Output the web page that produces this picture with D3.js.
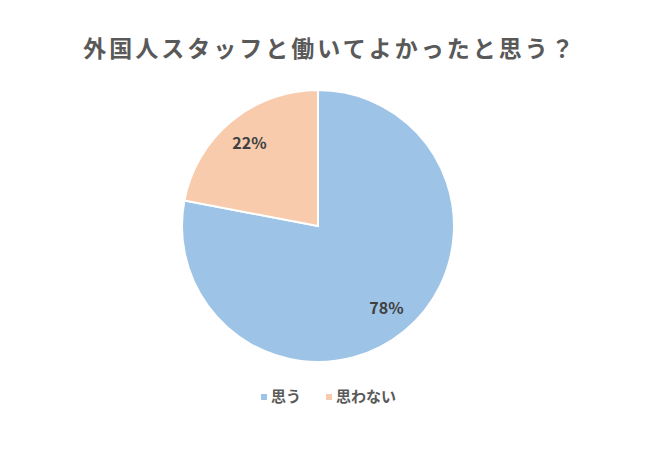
<!DOCTYPE html>
<html>
<head>
<meta charset="utf-8">
<script src="https://cdn.jsdelivr.net/npm/d3@7"></script>
<style>
  body { margin: 0; background: #fff; }
  text { font-family: "Noto Sans CJK JP", "Noto Sans", sans-serif; }
</style>
</head>
<body>
<div id="wrapper"></div>
<script>
// data
const categories = ["思う", "思わない"];
const values = [78, 22];
const colors = ["#9dc3e6", "#f8cbad"];
const title = "外国人スタッフと働いてよかったと思う？";

const width = 650;
const height = 450;
const cx = 318;
const cy = 226;
const radius = 136;

const svg = d3
  .select("#wrapper")
  .append("svg")
  .attr("width", width)
  .attr("height", height);

// title
svg
  .append("text")
  .attr("x", 330)
  .attr("y", 57)
  .attr("text-anchor", "middle")
  .attr("fill", "#595959")
  .attr("font-size", 23)
  .attr("font-weight", "bold")
  .attr("letter-spacing", 3)
  .text(title);

// pie
const pie = d3.pie().sort(null).value((d) => d);
const arcs = pie(values);
const arc = d3.arc().innerRadius(0).outerRadius(radius);
const labelArc = d3.arc().innerRadius(radius * 0.79).outerRadius(radius * 0.79);

const bounds = svg.append("g").attr("transform", `translate(${cx},${cy})`);

bounds
  .selectAll("path")
  .data(arcs)
  .join("path")
  .attr("d", arc)
  .attr("fill", (d, i) => colors[i])
  .attr("stroke", "#fff")
  .attr("stroke-width", 2);

bounds
  .selectAll(".label")
  .data(arcs)
  .join("text")
  .attr("class", "label")
  .attr("transform", (d) => `translate(${labelArc.centroid(d)})`)
  .attr("text-anchor", "middle")
  .attr("dy", "0.35em")
  .attr("fill", "#404040")
  .attr("font-size", 16)
  .attr("font-weight", "bold")
  .text((d) => d.data + "%");

// legend
const legendX = [261, 326];
const legend = svg
  .selectAll(".legend")
  .data(categories)
  .join("g")
  .attr("class", "legend")
  .attr("transform", (d, i) => `translate(${legendX[i]},397)`);

legend
  .append("rect")
  .attr("x", 0)
  .attr("y", -3)
  .attr("width", 6)
  .attr("height", 6)
  .attr("fill", (d, i) => colors[i]);

legend
  .append("text")
  .attr("x", 10)
  .attr("dy", "0.35em")
  .attr("fill", "#595959")
  .attr("font-size", 15)
  .attr("font-weight", "bold")
  .text((d) => d);
</script>
</body>
</html>
